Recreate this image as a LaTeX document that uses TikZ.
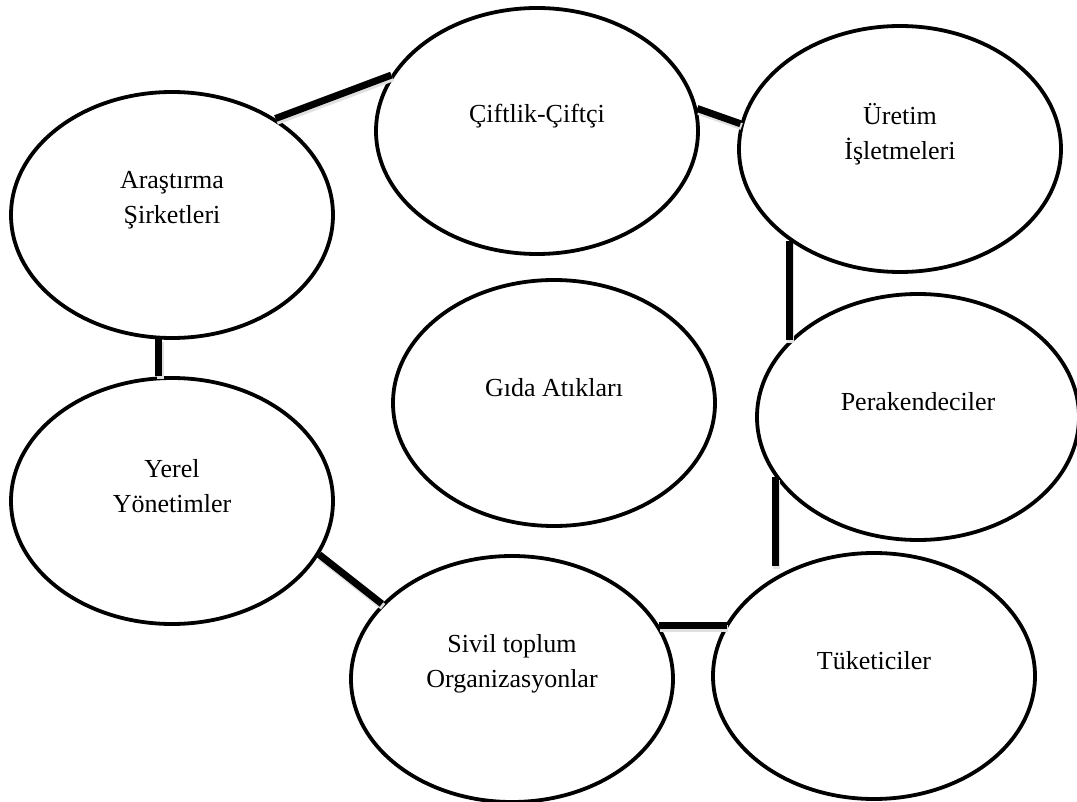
\documentclass[tikz,border=0pt]{standalone}
\usepackage{fontspec}
\setmainfont{Liberation Serif}
\usetikzlibrary{shapes.geometric}

\begin{document}
\begin{tikzpicture}[x=0.5pt, y=-0.5pt,
    blob/.style={draw, ellipse, line width=1.9pt, minimum width=161pt, minimum height=123pt, inner sep=0pt},
    blobtext/.style={align=center, font=\fontsize{13}{17.5}\selectfont, inner sep=0pt, yshift=7.5pt},
    link/.style={line width=3.5pt, preaction={draw=black!12, line width=3.5pt, transform canvas={shift={(0.6pt,-1.4pt)}}}}]
        \useasboundingbox (0,0) rectangle (1077,802);
        % the actors
        \node[blob] (ciftlik) at (537,131) {};
        \node[blob] (uretim) at (900,149) {};
        \node[blob] (arastirma) at (172,215) {};
        \node[blob] (gida) at (554,403) {};
        \node[blob] (perakende) at (918,417) {};
        \node[blob] (yerel) at (172,501) {};
        \node[blob] (sivil) at (512,679) {};
        \node[blob] (tuketici) at (874,676) {};
        \node[blobtext] (ciftlikT) at (ciftlik.center) {Çiftlik-Çiftçi};
        \node[blobtext] (uretimT) at (uretim.center) {Üretim\\İşletmeleri};
        \node[blobtext] (arastirmaT) at (arastirma.center) {Araştırma\\Şirketleri};
        \node[blobtext] (gidaT) at (gida.center) {Gıda Atıkları};
        \node[blobtext] (perakendeT) at (perakende.center) {Perakendeciler};
        \node[blobtext] (yerelT) at (yerel.center) {Yerel\\Yönetimler};
        \node[blobtext] (sivilT) at (sivil.center) {Sivil toplum\\Organizasyonlar};
        \node[blobtext] (tuketiciT) at (tuketici.center) {Tüketiciler};
        % the links
        \draw[link] (arastirma.43) -- (ciftlik.159);
        \draw[link] (ciftlik.8) -- (uretim.171);
        \draw[link] (perakende.149) -- (perakende.149 |- uretim.220);
        \draw[link] (perakende.203) -- (perakende.203 |- tuketici.125);
        \draw[link] (sivil.20) -- (sivil.20 -| tuketici.160);
        \draw[link] (yerel.340) -- (sivil.150);
        \draw[link] (arastirma.264) -- (arastirma.264 |- yerel.north);
      \end{tikzpicture}
\end{document}
